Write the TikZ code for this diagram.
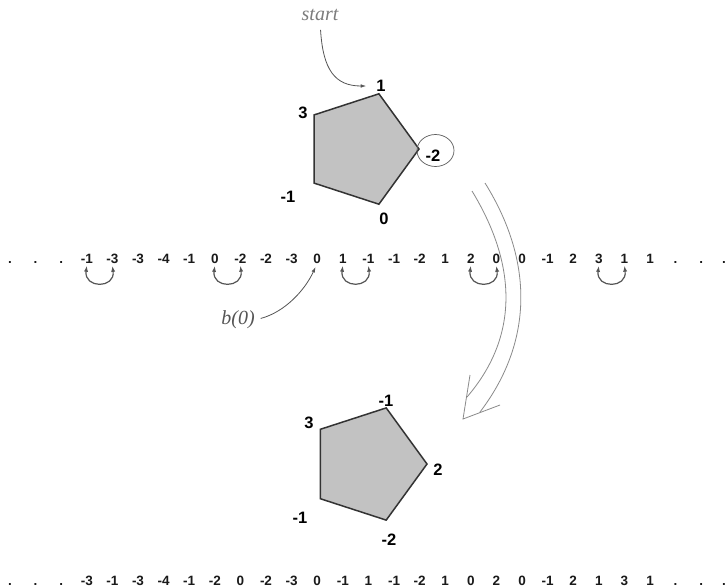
\documentclass[tikz,border=0pt]{standalone}
\usepackage{fontspec}
\newfontfamily\lsans{Liberation Sans}
\newfontfamily\lserif{Liberation Serif}
\usetikzlibrary{arrows.meta,shapes.geometric}
\definecolor{pentfill}{HTML}{C2C2C2}
\definecolor{pentline}{HTML}{333333}
\definecolor{txtdark}{HTML}{1A1A1A}
\definecolor{arcgray}{HTML}{555555}
\definecolor{biggray}{HTML}{8A8A8A}
\tikzset{
  rownum/.style={inner sep=0pt, anchor=base, text=txtdark, font=\lsans\bfseries\fontsize{13.5}{15}\selectfont},
  pentlab/.style={inner sep=0pt, text=black, font=\lsans\bfseries\fontsize{16.5}{18}\selectfont},
  pentagonbox/.style={draw=pentline, line width=1.5pt, fill=pentfill, line join=miter},
  arcarrow/.style={draw=arcgray, line width=1.2pt, {Latex[length=6pt,width=4.2pt]}-{Latex[length=6pt,width=4.2pt]}},
  notearrow/.style={draw=arcgray, line width=0.8pt, -{Latex[length=5.5pt,width=3.6pt]}},
  bigarrow/.style={draw=biggray, line width=0.8pt},
  itlab/.style={inner sep=0pt, font=\lserif\itshape\fontsize{20}{22}\selectfont}
}
\begin{document}
\begin{tikzpicture}[x=1pt,y=-1pt]
\path[use as bounding box, fill=white] (0,0) rectangle (727,587);

% top row
\foreach \v [count=\i from 3] in {-1,-3,-3,-4,-1,0,-2,-2,-3,0,1,-1,-1,-2,1,2,0,0,-1,2,3,1,1}
  \node[rownum] (t\i) at ({10+25.6*\i},263) {\v};
\foreach \i in {0,1,2,26,27}
  \node[rownum] (td\i) at ({10+25.6*\i},263) {.};
\node[rownum] (td28) at (724,263) {.};
% bottom row
\foreach \v [count=\i from 3] in {-3,-1,-3,-4,-1,-2,0,-2,-3,0,-1,1,-1,-2,1,0,2,0,-1,2,1,3,1}
  \node[rownum] (b\i) at ({10+25.6*\i},585) {\v};
\foreach \i in {0,1,2,26,27}
  \node[rownum] (bd\i) at ({10+25.6*\i},585) {.};
\node[rownum] (bd28) at (724,585) {.};

% arcs in top row
\foreach \a/\b in {3/4,8/9,13/14,18/19,23/24}
  \draw[arcarrow] ([yshift=-2.5pt]t\a.south) .. controls +(-3,23) and +(3,23) .. ([yshift=-2.5pt]t\b.south);

% top pentagon
\path[pentagonbox] (419,149) -- (378.9,93.8) -- (314.1,114.9) -- (314.1,183.1) -- (378.9,204.2) -- cycle;
\node[pentlab] (p1a) at (381,86) {1};
\node[pentlab] (p1b) at (303,113) {3};
\node[pentlab] (p1c) at (433,156) {-2};
\node[pentlab] (p1d) at (288,197) {-1};
\node[pentlab] (p1e) at (384,219) {0};
\node[draw=pentline!80, line width=0.7pt, ellipse, minimum width=37pt, minimum height=32pt, inner sep=0pt] (circ) at (435.5,150.5) {};

% bottom pentagon
\path[pentagonbox] (427,464) -- (386.2,407.9) -- (320.3,429.3) -- (320.3,498.7) -- (386.2,520.1) -- cycle;
\node[pentlab] (p2a) at (386,401) {-1};
\node[pentlab] (p2b) at (309,423) {3};
\node[pentlab] (p2c) at (438,470) {2};
\node[pentlab] (p2d) at (300,518) {-1};
\node[pentlab] (p2e) at (389,540) {-2};

% start label and arrow
\node[itlab, text=biggray!90!black] (start) at (320,15) {start};
\draw[notearrow, shorten <=9pt, shorten >=10pt] (start.south) .. controls (323,70) and (335,86) .. (p1a.west);

% b(0) label and arrow
\node[itlab, text=arcgray] (bzero) at (238,320) {b(0)};
\draw[notearrow, shorten <=6pt, shorten >=4pt] (bzero.east) .. controls (285,312) and (305,290) .. (t12.south);

% big transformation arrow (double outline)
\draw[bigarrow] (472,191) .. controls (520,270) and (516,340) .. (467,397);
\draw[bigarrow] (485,183) .. controls (536,265) and (531,345) .. (480,412);
\draw[bigarrow, line join=miter] (470,375) -- (463,419) -- (500,405);
\end{tikzpicture}
\end{document}
